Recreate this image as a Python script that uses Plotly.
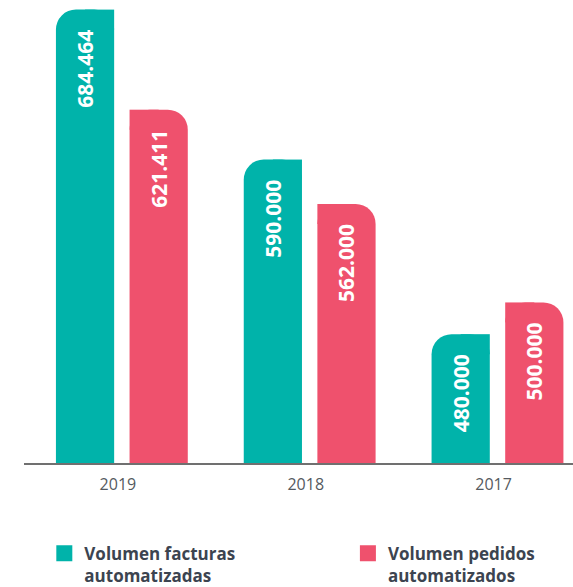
import plotly.graph_objects as go

# data
years = ["2019", "2018", "2017"]
facturas = [684.464, 590.000, 480.000]
pedidos = [621.411, 562.000, 500.000]
names = ["Volumen facturas<br>automatizadas", "Volumen pedidos<br>automatizados"]

TEAL = "#00b3aa"
PINK = "#ef516d"
PAD = "\u00a0" * 3

# bar geometry (category units) and rounded-corner size
WIDTH = 0.31
OFFSETS = [-0.33, 0.062]
Y_RANGE = [398.85, 684.84]
RADIUS_PX = 20
PLOT_H = 454
radius_y = RADIUS_PX * (Y_RANGE[1] - Y_RANGE[0]) / PLOT_H


def fmt(v):
    return f"{v:.3f}" + PAD


fig = go.Figure()
series = [(facturas, TEAL, OFFSETS[0], names[0], "legend"),
          (pedidos, PINK, OFFSETS[1], names[1], "legend2")]
for vals, color, off, name, leg in series:
    fig.add_trace(go.Bar(
        x=years, y=vals, width=WIDTH, offset=off,
        marker=dict(color=color, line_width=0, cornerradius=RADIUS_PX),
        text=[fmt(v) for v in vals],
        textposition="inside", insidetextanchor="end", textangle=-90,
        textfont=dict(family="Open Sans", size=21, color="white", weight="bold"),
        showlegend=False, hoverinfo="skip",
    ))
    # legend entry with a larger square swatch
    fig.add_trace(go.Scatter(
        x=[None], y=[None], mode="markers", name=name, legend=leg,
        marker=dict(symbol="square", size=17, color=color),
    ))

# square off one top corner of every bar (teal keeps top-left round, pink top-right)
for i in range(len(years)):
    for vals, color, off, side in [(facturas, TEAL, OFFSETS[0], "right"), (pedidos, PINK, OFFSETS[1], "left")]:
        x0 = i + off + (WIDTH / 2 if side == "right" else 0)
        fig.add_shape(type="rect", layer="below", line_width=0, fillcolor=color,
                      x0=x0, x1=x0 + WIDTH / 2, y0=vals[i] - radius_y, y1=vals[i])

legend_style = dict(
    y=-0.16, xanchor="left", yanchor="top", valign="top",
    font=dict(family="Open Sans", size=17, color="#3c4450", weight="bold"),
    itemclick=False, bgcolor="rgba(0,0,0,0)",
)

fig.update_layout(
    width=573, height=587,
    margin=dict(l=23.5, r=0, t=9, b=124, autoexpand=False),
    plot_bgcolor="white", paper_bgcolor="white",
    barmode="overlay",
    xaxis=dict(
        type="category", range=[-0.5, 2.423],
        showline=True, linecolor="#707070", linewidth=1.5,
        ticks="", showgrid=False, zeroline=False, ticklabelstandoff=6,
        tickfont=dict(family="Open Sans", size=16, color="#555a60"),
    ),
    yaxis=dict(range=Y_RANGE, visible=False, showgrid=False, zeroline=False),
    showlegend=True,
    legend=dict(x=0.037, **legend_style),
    legend2=dict(x=0.59, **legend_style),
)

# drop the default page margin so the figure sits at the window's corner
fig.write_html("out.html", config={"displayModeBar": False},
               post_script="document.body.style.margin='0';")
